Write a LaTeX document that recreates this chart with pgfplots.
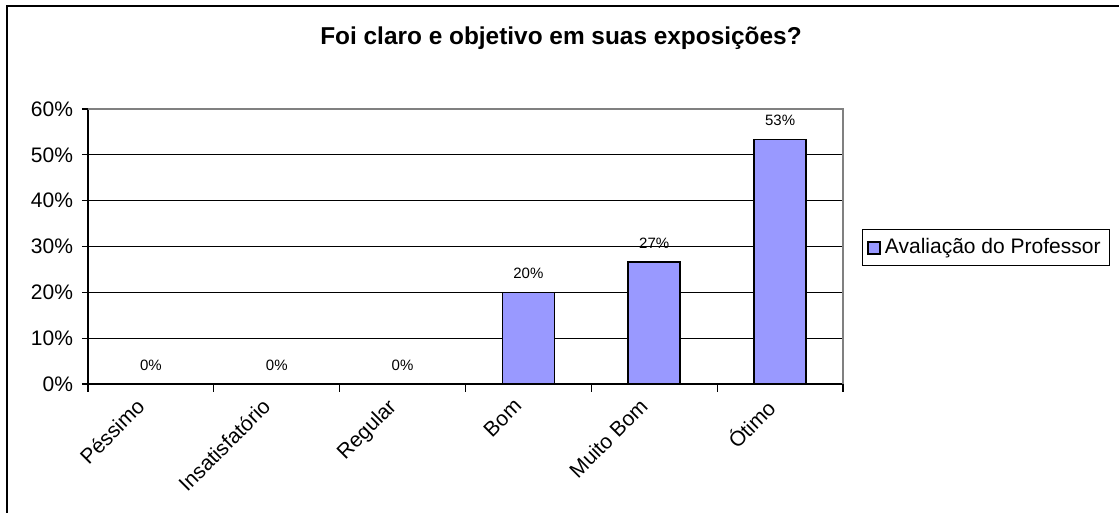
\documentclass[border=0pt]{standalone}
\usepackage{pgfplots}
\pgfplotsset{compat=1.18}
\usepackage{fontspec}
\setmainfont{Liberation Sans}
\definecolor{barblue}{HTML}{9999FF}
\begin{document}
\begin{tikzpicture}
\useasboundingbox (-44pt,-64.5pt) rectangle (515.5pt,192pt);
\draw[line width=1pt] (-40.5pt,-70pt) -- (-40.5pt,189pt) -- (530pt,189pt);
\node[anchor=base,font=\bfseries\fontsize{12.2}{14}\selectfont] at (236.5pt,169.5pt) {Foi claro e objetivo em suas exposições?};
\begin{axis}[
  at={(0,0)}, anchor=south west,
  scale only axis, width=377.5pt, height=137.5pt,
  xmin=-0.5, xmax=5.5, ymin=0, ymax=60,
  axis x line*=bottom, axis y line*=left,
  axis line style={black, line width=0.8pt},
  xtick={0,...,5},
  xticklabels={Péssimo,Insatisfatório,Regular,Bom,Muito Bom,Ótimo},
  major x tick style={draw=none},
  minor xtick={-0.5,0.5,...,5.5},
  minor x tick style={black, line width=0.6pt},
  minor tick length=4pt,
  ytick={0,10,...,60},
  yticklabels={0\%,10\%,20\%,30\%,40\%,50\%,60\%},
  major y tick style={black, line width=0.6pt},
  major tick length=3pt,
  tick align=outside,
  ymajorgrids,
  grid style={black, line width=0.6pt},
  ticklabel style={font=\fontsize{10.5}{12}\selectfont},
  xticklabel style={xshift=-8pt, yshift=-2pt, rotate=45, anchor=north east, inner sep=1pt},
  yticklabel style={xshift=-1pt},
  legend style={at={(1.025,0.495)}, anchor=west, draw=black, line width=0.5pt,
    font=\fontsize{10.5}{12}\selectfont, inner sep=2.5pt, row sep=0pt},
  legend image code/.code={\draw[fill=barblue,draw=black,line width=0.8pt] (0pt,-3pt) rectangle (6pt,3pt);},
  /pgf/number format/assume math mode=true,
  nodes near coords={\pgfmathprintnumber[fixed,precision=0,assume math mode=true]{\pgfplotspointmeta}\%},
  nodes near coords style={font=\fontsize{7.5}{8}\selectfont, yshift=3pt},
  clip=false,
]
\addplot[ybar, bar width=26pt, fill=barblue, draw=black, line width=0.8pt]
  coordinates {(0,0) (1,0) (2,0) (3,20) (4,26.67) (5,53.33)};
\addlegendentry{Avaliação do Professor}
\draw[gray, line width=0.8pt] (rel axis cs:0,1) -- (rel axis cs:1,1) -- (rel axis cs:1,0);
\end{axis}
\end{tikzpicture}
\end{document}
